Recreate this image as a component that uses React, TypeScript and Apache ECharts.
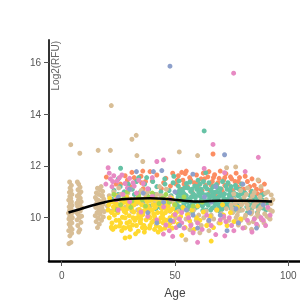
import React, { useEffect, useRef } from "react";
import * as echarts from "echarts";

const xTicks = [0, 50, 100];
const yTicks = [10, 12, 14, 16];

const tan: number[][] = [
  [3.2,9.0],[4.1,9.05],[3.6,9.3],[4.4,9.4],[3.1,9.5],[4.6,9.55],[3.8,9.65],[3.3,9.75],[4.5,9.8],[3.9,9.88],[3.2,9.95],[4.7,10.0],[3.6,10.05],[4.2,10.12],[3.0,10.18],[4.8,10.22],[3.5,10.28],[4.1,10.35],[3.3,10.42],[4.6,10.48],[3.8,10.55],[4.3,10.62],[3.1,10.68],[4.0,10.75],[3.6,10.82],[4.5,10.9],[3.4,10.98],[4.1,11.05],[3.7,11.15],[4.3,11.25],[3.5,11.38],[4.0,12.82],
  [7.5,9.45],[8.0,9.54],[7.1,9.7],[8.5,9.82],[6.8,9.92],[7.8,10.0],[8.8,10.06],[7.3,10.12],[6.6,10.2],[8.2,10.26],[7.6,10.32],[8.9,10.38],[7.0,10.44],[8.0,10.5],[6.7,10.56],[8.6,10.62],[7.4,10.68],[8.2,10.76],[6.9,10.84],[7.8,10.92],[8.5,11.0],[7.2,11.08],[8.1,11.18],[7.5,11.3],[6.9,11.38],[8.0,12.49],
  [15.8,9.62],[16.6,9.75],[15.2,9.85],[17.6,9.9],[16.2,9.98],[18.4,10.03],[14.8,10.08],[17.0,10.14],[15.6,10.2],[18.8,10.24],[16.4,10.3],[17.8,10.36],[15.0,10.4],[16.9,10.46],[18.3,10.52],[15.5,10.56],[17.3,10.62],[16.1,10.68],[18.6,10.72],[14.9,10.78],[17.7,10.84],[16.5,10.9],[15.3,10.96],[18.1,11.02],[16.8,11.08],[15.8,11.14],[17.4,11.2],[16.1,12.6],
  [16.0,10.0],[17.2,10.3],[15.4,10.7],[17.9,10.6],[16.7,10.2],[18.0,10.85],[15.9,10.45],
  [20.2,10.45],[21.0,10.85],[22.0,10.25],[23.0,11.0],[24.1,10.6],[25.2,11.15],[26.0,10.9],[27.1,10.65],[28.0,10.4],[29.2,10.95],[30.1,11.1],[31.0,10.25],[32.2,10.7],[33.1,10.55],[34.0,10.9],[35.1,11.05],[36.0,10.5],[37.2,10.85],[38.1,11.0],[39.0,10.35],[40.2,10.7],[41.1,10.55],[42.0,10.9],[43.2,11.2],[44.1,10.6],[45.0,10.8],[46.2,11.1],[47.1,10.45],[48.0,10.8],[49.2,10.6],[22.0,9.6],[21.5,12.6],[21.9,14.33],[31.0,13.03],[32.9,13.18],[33.2,12.4],[35.8,12.17],
  [24.5,10.75],[28.8,10.8],[33.5,10.3],[38.8,10.65],[43.8,10.85],[47.8,10.25],
  [50.3,10.0],[51.5,10.25],[52.6,9.8],[53.8,10.35],[54.9,9.95],[56.0,10.15],[57.1,9.75],[58.3,10.3],[59.4,9.9],[60.5,10.1],[61.6,9.7],[62.7,10.0],[63.8,10.25],[64.9,9.85],[66.0,10.1],[67.1,9.95],[68.3,10.3],[69.4,9.8],[70.5,10.15],[71.6,10.0],[72.7,10.35],[73.8,9.9],[54.8,9.15],[56.6,9.54],[61.0,9.42],[65.0,9.5],[51.9,12.54],[60.0,12.4],[72.8,11.93],[76.8,11.96],[86.7,11.46],[92.5,10.88],
  [74.8,10.5],[75.5,10.2],[76.2,10.7],[77.0,10.0],[77.7,10.4],[78.4,10.62],[79.1,9.9],[79.8,10.3],[80.5,10.78],[81.2,10.1],[81.9,10.5],[82.6,9.8],[83.3,10.68],[84.0,10.22],[84.7,10.42],[85.4,10.0],[86.1,10.6],[86.8,10.3],[87.5,10.8],[88.2,9.92],[88.9,10.5],[89.6,10.15],[90.3,10.7],[91.0,10.36],[91.7,9.98],[92.4,10.55],[93.0,10.25],[78.0,9.72],[80.9,9.62],[83.8,9.55],[86.5,9.68],[89.3,9.8],[92.0,9.95],[76.0,10.92],[79.0,11.05],[82.0,11.15],[85.0,10.98],[88.0,11.2],[91.0,11.0],[84.2,10.85],[87.2,10.05],[90.0,10.95],[81.5,10.9],[77.3,9.85],
  [75.2,10.35],[76.6,10.55],[78.0,10.25],[79.4,10.5],[80.8,10.0],[82.2,10.35],[83.6,10.15],[85.0,10.5],[86.4,10.15],[87.8,10.4],[89.2,10.6],[90.6,10.05],[92.0,10.3],[81.0,10.6],[84.5,9.85],[88.0,10.65],[93.2,10.7],[77.5,10.1],
];

const yellow: number[][] = [
  [20.5,10.3],[21.0,10.0],[21.5,10.6],[22.2,9.8],[22.8,10.42],[23.3,10.1],[23.8,9.65],[24.3,10.52],[24.8,10.2],[25.3,9.9],[25.8,10.7],[26.3,10.38],[26.8,10.02],[27.3,9.62],[27.8,10.6],[28.3,10.2],[28.8,9.8],[29.3,10.5],[29.8,10.08],[30.3,9.55],[30.8,10.4],[31.3,9.72],[31.8,10.22],[32.3,9.9],[32.8,10.62],[33.3,10.0],[33.8,9.48],[34.3,10.32],[34.8,9.8],[35.3,10.5],[35.8,10.12],[36.3,9.7],[36.8,10.42],[37.3,9.92],[37.8,10.62],[38.3,10.2],[38.8,9.6],[39.3,10.3],[39.8,9.82],[40.3,10.5],[40.8,9.9],[41.3,10.4],[41.8,9.7],[42.3,10.2],[42.8,10.6],[43.3,9.62],[43.8,10.0],[44.3,10.35],[44.8,9.8],[45.3,10.5],[45.8,10.2],[46.3,9.9],[46.8,10.45],[47.3,9.7],[47.8,10.0],[48.3,10.3],[48.8,9.6],[49.3,10.1],[49.8,10.5],
  [21.2,10.75],[22.6,9.55],[24.0,10.85],[25.5,9.68],[26.6,10.55],[27.6,10.25],[28.6,10.8],[29.6,9.65],[30.6,10.7],[31.6,10.55],[32.6,9.38],[33.6,10.75],[34.6,10.05],[35.6,9.62],[36.6,10.72],[37.6,10.3],[38.6,10.05],[39.6,10.68],[40.6,10.15],[41.6,10.72],[42.6,9.45],[43.6,10.48],[44.6,10.1],[45.6,9.6],[46.6,10.7],[47.6,10.28],[48.6,10.75],[49.6,9.85],[23.5,10.3],[29.0,10.35],[34.0,10.6],[39.0,10.0],[44.0,9.55],
  [20.8,10.5],[22.0,10.2],[23.0,10.6],[24.0,9.9],[25.0,10.45],[26.0,9.8],[27.0,10.35],[28.0,10.0],[29.0,10.65],[30.0,9.85],[31.0,10.3],[32.0,10.5],[33.0,9.7],[34.0,10.15],[35.0,9.95],[36.0,10.25],[37.0,9.6],[38.0,10.45],[39.0,9.7],[40.0,10.3],[41.0,10.05],[42.0,10.5],[43.0,9.85],[44.0,10.2],[45.0,9.95],[46.0,10.35],[47.0,10.55],[48.0,9.8],[49.0,10.35],[50.0,10.1],[26.5,9.5],[36.5,9.45],[41.0,9.55],[31.5,10.0],
  [28.0,9.22],[30.0,9.26],[21.9,9.64],[28.0,9.6],[30.0,9.64],[34.6,9.86],
  [50.5,10.2],[51.5,9.75],[52.5,10.05],[53.5,10.4],[54.5,9.62],[55.5,10.12],[56.5,9.88],[57.5,10.3],[58.5,9.55],[59.5,10.0],[61.0,9.9],[62.5,10.22],[64.0,9.7],[65.5,10.05],[67.0,9.62],[68.5,10.3],[70.0,9.8],[71.5,10.1],[73.0,9.7],[74.5,10.2],[76.0,9.85],[77.5,10.4],[79.0,9.95],[66.0,9.1],[53.0,9.32],[60.0,10.45],[71.0,10.5],
];

const teal: number[][] = [
  [22.2,10.72],[23.1,11.05],[24.0,10.45],[24.9,10.9],[25.8,11.2],[26.7,10.62],[27.6,11.0],[28.5,10.8],[29.4,11.3],[30.3,10.55],[31.2,11.1],[32.1,10.9],[33.0,11.4],[33.9,10.7],[34.8,11.0],[35.7,10.6],[36.6,11.3],[37.5,10.9],[38.4,11.1],[39.3,10.7],[40.2,11.4],[41.1,10.9],[42.0,11.2],[42.9,10.6],[43.8,11.0],[44.7,10.8],[45.6,11.3],[46.5,10.55],[47.4,11.05],[48.3,10.85],[49.2,11.35],[25.0,11.5],[28.0,10.35],[34.0,11.55],[37.5,11.55],[41.5,10.35],[45.5,11.5],[49.5,11.6],[43.5,10.4],[26.0,11.91],[39.0,10.45],
  [50.3,10.62],[50.9,10.95],[51.5,11.22],[52.1,10.42],[52.7,10.78],[53.3,11.08],[53.9,10.52],[54.5,10.88],[55.1,11.32],[55.7,10.32],[56.3,10.72],[56.9,11.02],[57.5,10.5],[58.1,10.92],[58.7,11.22],[59.3,10.62],[59.9,10.42],[60.5,10.98],[61.1,11.3],[61.7,10.7],[62.3,10.28],[62.9,10.58],[63.5,10.88],[64.1,11.12],[64.7,10.48],[65.3,10.78],[65.9,11.08],[66.5,10.38],[67.1,10.68],[67.7,10.98],[68.3,11.28],[68.9,10.52],[69.5,10.82],[70.1,11.12],[70.7,10.32],[71.3,10.62],[71.9,10.92],[72.5,11.22],[73.1,10.45],[73.7,10.75],[74.3,11.05],[74.9,10.35],[75.5,10.65],[76.1,10.95],[76.7,11.25],[77.3,10.55],[77.9,10.85],[78.5,10.4],[79.1,10.7],[79.7,11.0],
  [50.6,10.32],[51.8,11.42],[53.0,10.25],[54.2,11.15],[55.4,10.6],[56.6,11.38],[57.8,10.22],[59.0,10.78],[60.2,11.45],[61.4,10.5],[62.6,11.4],[63.8,10.3],[65.0,11.35],[66.2,10.85],[67.4,10.4],[68.6,11.0],[69.8,10.25],[71.0,11.4],[72.2,10.55],[73.4,11.35],[74.6,10.7],[75.8,10.25],[77.0,11.15],[78.2,10.6],[79.4,11.3],[52.4,10.95],[54.8,10.7],[57.2,10.8],[59.6,11.1],[62.0,10.95],[64.4,10.65],[66.8,11.2],[69.2,10.65],[71.6,10.75],[74.0,10.9],[76.4,10.5],[78.8,10.9],
  [50.8,10.5],[51.4,10.8],[52.0,11.05],[52.6,10.35],[53.2,10.65],[53.8,10.95],[54.4,10.4],[55.0,10.85],[55.6,11.15],[56.2,10.45],[56.8,10.65],[57.4,11.1],[58.0,10.55],[58.6,10.35],[59.2,10.85],[59.8,11.2],[60.4,10.55],[61.0,10.85],[61.6,11.1],[62.2,10.45],[62.8,10.75],[63.4,11.2],[64.0,10.55],[64.6,10.9],[65.2,10.6],[65.8,10.3],[66.4,11.0],[67.0,10.85],[67.6,10.55],[68.2,10.75],[68.8,11.15],[69.4,10.4],[70.0,10.95],[70.6,10.55],[71.2,10.85],[71.8,10.4],[72.4,10.7],[73.0,11.1],[73.6,10.55],[74.2,10.85],[74.8,11.2],[75.4,10.45],[76.0,10.75],[76.6,10.35],[77.2,10.9],[77.8,10.6],[78.4,11.1],[79.0,10.3],[79.6,10.6],[80.2,10.9],[81.4,10.6],[82.8,10.5],[84.2,10.7],[85.6,10.6],[87.0,10.35],[88.4,10.7],
  [62.9,13.35],[63.6,11.74],
  [80.3,10.72],[81.0,10.95],[81.7,10.42],[82.4,10.66],[83.1,10.86],[83.8,10.32],[84.5,10.56],[85.2,10.8],[85.9,10.45],[86.6,10.7],[87.3,10.5],[88.0,10.86],[88.7,10.38],[89.4,10.62],[90.1,10.3],[90.8,10.55],[84.0,11.02],[86.4,10.2],[82.0,10.2],[89.0,10.9],
];

const orange: number[][] = [
  [19.7,11.57],[26.0,11.3],[28.0,11.62],[30.0,11.22],[31.0,11.75],[33.0,11.42],[35.0,11.6],[35.8,11.8],[35.3,11.35],[36.0,11.12],[38.0,11.02],[40.0,11.42],[42.0,11.65],[44.0,11.12],[46.0,11.52],[48.0,11.22],[49.0,11.72],[29.0,11.45],[39.0,11.78],[27.0,10.92],[34.0,10.82],
  [32.0,11.55],[37.0,11.4],[45.0,11.35],[24.0,11.3],
  [50.5,11.3],[51.5,11.62],[52.5,11.1],[53.5,11.45],[54.5,11.7],[55.5,11.2],[56.5,11.55],[57.5,11.0],[58.5,11.35],[59.5,11.65],[60.5,11.15],[61.5,11.5],[62.5,11.72],[63.5,11.25],[64.5,11.58],[65.5,11.02],[66.5,11.4],[67.5,11.66],[68.5,11.2],[69.5,11.52],[70.5,11.1],[71.5,11.45],[72.5,11.7],[73.5,11.3],[74.5,11.58],[75.5,11.05],[76.5,11.4],[77.5,11.2],[78.5,11.55],[79.5,11.3],[55.0,11.8],[65.0,11.78],[70.0,11.8],[58.0,10.9],[68.0,10.85],[75.0,10.8],[53.0,11.75],[67.0,11.55],[72.0,11.55],[77.0,11.72],
  [51.0,11.45],[54.0,11.3],[57.0,11.45],[60.0,11.35],[63.0,11.5],[66.0,11.25],[69.0,11.35],[72.0,11.25],[75.0,11.5],[78.0,11.4],[52.0,11.0],[62.0,11.05],[71.0,11.0],[79.0,11.1],
  [80.5,11.1],[82.0,11.4],[83.5,11.02],[85.0,11.25],[86.5,10.92],[88.0,11.1],[89.5,11.3],[88.6,10.96],[84.0,11.5],[87.0,11.42],[81.0,11.6],[83.0,11.2],[86.0,11.1],[66.8,12.46],
];

const pink: number[][] = [
  [19.5,11.3],[20.5,11.93],[21.0,11.72],[21.5,11.5],[22.2,11.2],[23.0,11.62],[24.5,11.42],[26.6,11.65],[28.0,11.32],[30.0,11.52],[32.0,11.22],[34.0,11.45],[36.0,11.32],[38.0,11.12],[40.0,11.55],[42.0,12.17],[44.9,12.23],
  [22.5,11.4],[25.5,11.55],[29.0,11.15],[31.5,11.35],[24.0,10.7],
  [25.0,10.3],[30.0,10.62],[35.0,10.22],[40.0,10.82],[45.0,10.42],[50.0,10.12],[48.0,10.72],[42.0,9.92],[27.0,10.9],[33.0,10.95],[38.0,10.05],
  [46.0,9.72],[47.5,9.5],[49.0,9.86],[50.5,9.62],[52.0,9.95],[53.0,10.2],[54.0,9.6],[56.0,10.0],[58.0,9.42],[60.0,9.8],[62.0,9.55],[64.0,10.1],[66.0,9.7],[68.0,9.35],[70.0,9.92],[71.5,10.05],[72.5,9.85],[74.0,10.0],[76.0,9.5],[78.0,9.8],[80.0,9.6],[82.0,9.9],[84.0,9.45],[86.0,9.75],[88.0,10.0],[89.0,9.9],[90.0,9.7],[91.0,10.4],[92.0,10.1],[49.0,9.28],[60.0,9.05],[44.9,9.37],[72.0,9.3],
  [53.0,9.8],[57.0,9.7],[65.0,9.9],[75.0,9.7],[85.0,9.95],
  [75.9,15.58],[66.8,12.83],[86.8,12.33],[62.9,11.9],[71.9,11.74],[81.0,11.78],
];

const purple: number[][] = [
  [25.0,10.8],[30.0,11.1],[33.0,11.78],[40.5,11.78],[44.2,11.82],[38.0,10.2],[42.0,9.8],[45.0,10.6],[50.0,11.0],[52.0,9.7],[55.0,10.3],[57.9,11.68],[60.0,9.6],[63.0,10.8],[65.0,9.9],[68.0,11.2],[70.0,10.1],[73.0,9.5],[75.0,10.7],[78.0,9.8],[80.0,11.3],[83.0,10.2],[86.0,9.6],[89.0,10.5],[71.9,12.43],[47.8,15.85],[36.0,10.95],[58.0,10.1],[66.0,10.6],[77.0,10.35],[48.0,9.9],
];

const green: number[][] = [
  [23.0,10.9],[26.0,10.5],[29.0,11.0],[31.0,10.65],[34.0,10.85],[37.0,10.45],[40.0,10.95],[43.0,10.55],[46.0,10.9],[50.0,10.5],[54.0,10.8],[58.0,10.45],[27.5,10.75],[35.5,10.7],[44.5,10.75],[62.0,10.6],[24.5,10.3],
  [30.5,10.4],[38.5,10.8],[47.5,10.6],[52.0,10.65],
];

const trend: number[][] = [
  [3,10.2],[8,10.33],[13,10.46],[18,10.58],[23,10.67],[30,10.73],[39,10.75],[47,10.72],[55,10.65],[62,10.63],[70,10.66],[80,10.66],[92.8,10.63],
];

const FONT = "Liberation Sans, Arial, sans-serif";

export default function App() {
  const ref = useRef<HTMLDivElement>(null);
  useEffect(() => {
    const chart = echarts.init(ref.current!, null, { renderer: "svg" });
    const sc = (name: string, data: number[][], color: string) => ({
      name,
      type: "scatter",
      data,
      symbolSize: 5,
      silent: true,
      itemStyle: { color, opacity: 1, borderWidth: 0 },
    });
    chart.setOption({
      animation: false,
      grid: { left: 49, right: 0, top: 40, bottom: 39 },
      xAxis: {
        type: "value",
        min: -5.6,
        max: 105.2,
        splitLine: { show: false },
        axisLine: { show: true, onZero: false, lineStyle: { color: "#000", width: 2.5 } },
        axisTick: { show: true, customValues: xTicks, length: 5, lineStyle: { color: "#555", width: 1 } },
        axisLabel: { customValues: xTicks, margin: 9, color: "#555", fontSize: 10, fontFamily: FONT },
      },
      yAxis: {
        type: "value",
        min: 8.33,
        max: 16.86,
        splitLine: { show: false },
        axisLine: { show: true, onZero: false, lineStyle: { color: "#333", width: 2 } },
        axisTick: { show: true, customValues: yTicks, length: 5, lineStyle: { color: "#555", width: 1 } },
        axisLabel: { customValues: yTicks, margin: 8, color: "#555", fontSize: 10, fontFamily: FONT },
      },
      graphic: [
        {
          type: "text",
          x: 55,
          y: 41,
          rotation: Math.PI / 2,
          style: { text: "Log2(RFU)", fill: "#666", fontSize: 10, fontFamily: FONT, align: "right", verticalAlign: "middle" },
        },
        {
          type: "text",
          x: 175,
          y: 292.5,
          style: { text: "Age", fill: "#444", fontSize: 12, fontFamily: FONT, align: "center", verticalAlign: "middle" },
        },
      ],
      series: [
        sc("orange", orange, "#fc8d62"),
        sc("teal", teal, "#66c2a5"),
        sc("tan", tan, "#d8be96"),
        sc("yellow", yellow, "#ffd92f"),
        sc("green", green, "#a6d854"),
        sc("pink", pink, "#e78ac3"),
        sc("purple", purple, "#8da0cb"),
        {
          name: "trend",
          type: "line",
          data: trend,
          smooth: true,
          showSymbol: false,
          silent: true,
          lineStyle: { color: "#000", width: 2.5 },
          z: 10,
        },
      ],
    });
    return () => chart.dispose();
  }, []);
  return <div ref={ref} style={{ position: "fixed", left: 0, top: 0, width: 300, height: 300 }} />;
}
